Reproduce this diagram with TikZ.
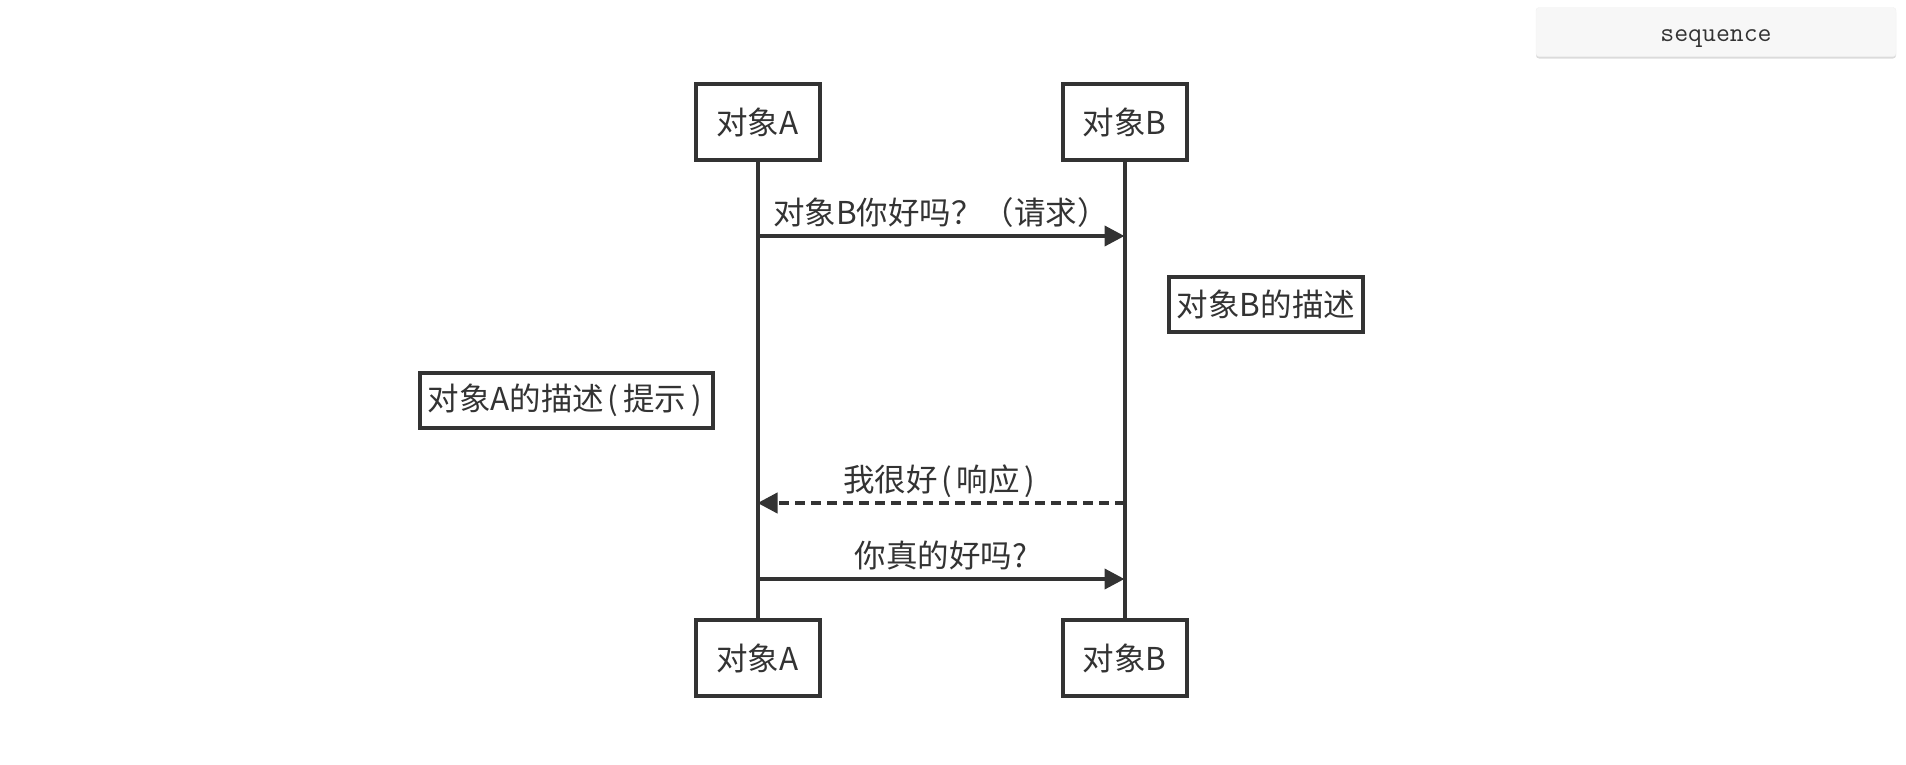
\documentclass[tikz,border=0pt]{standalone}
\usepackage{fontspec}
\setmainfont{Noto Sans CJK SC}
\usepackage{tikz}
\usetikzlibrary{arrows.meta,positioning,shadows}
\definecolor{inkGray}{HTML}{333333}
\definecolor{btnGray}{HTML}{F7F7F7}
\newcommand{\lp}{\kern.12em(\kern.15em}
\newcommand{\rp}{\kern.15em)\kern.12em}

\begin{document}
\begin{tikzpicture}[
    x=1pt,y=-1pt,
    every node/.style={font=\fontsize{31.5}{36}\selectfont,text=inkGray},
    actor/.style={rectangle,draw=inkGray,line width=4pt,fill=white,
                  minimum width=124pt,minimum height=76pt,inner sep=0pt},
    note/.style ={rectangle,draw=inkGray,line width=4pt,fill=white,
                  inner xsep=8pt,inner ysep=5pt,minimum height=55pt},
    life/.style={draw=inkGray,line width=4pt},
    msg/.style={-{Triangle[length=20pt,width=20pt]},draw=inkGray,line width=4pt},
    reply/.style={msg,dash pattern=on 10pt off 6pt},
    lab/.style={above=8pt,inner sep=0pt,text height=.8em,text depth=.2em}
  ]
  \useasboundingbox (0,0) rectangle (1906,764);
  %% Button at the top right
  \node[rectangle,rounded corners=3pt,fill=btnGray,draw=black!6,
        minimum width=360pt,minimum height=49pt,
        drop shadow={shadow xshift=0pt,shadow yshift=-2pt,opacity=0.35,fill=black!40}]
        (btn) at (1716,32) {};
  \node[font=\ttfamily\fontsize{27}{29}\selectfont,anchor=base] (btntxt)
        at ([yshift=-9.5pt]btn.center) {sequence};
  %% The two actors, top and bottom
  \node[actor] (A1) at (757.5,122) {对象A};
  \node[actor] (B1) at (1124.5,122) {对象B};
  \node[actor] (A2) at (757.5,658) {对象A};
  \node[actor] (B2) at (1124.5,658) {对象B};
  \draw[life] (A1) -- (A2);
  \draw[life] (B1) -- (B2);
  %% Notes
  \node[note] (nB) at (1266,304) {对象B的描述};
  \node[note] (nA) at (566.5,400) {对象A的描述\lp 提示\rp};
  %% Messages
  \coordinate (m1s) at (757.5,236);  \coordinate (m1e) at (1124.5,236);
  \coordinate (m2s) at (1124.5,503); \coordinate (m2e) at (757.5,503);
  \coordinate (m3s) at (757.5,579);  \coordinate (m3e) at (1124.5,579);
  \draw[msg] (m1s) -- node[lab]{对象B你好吗？（请求）} (m1e);
  \draw[reply] (m2s) -- node[lab]{我很好\lp 响应\rp} (m2e);
  \draw[msg] (m3s) -- node[lab]{你真的好吗?} (m3e);
\end{tikzpicture}
\end{document}
